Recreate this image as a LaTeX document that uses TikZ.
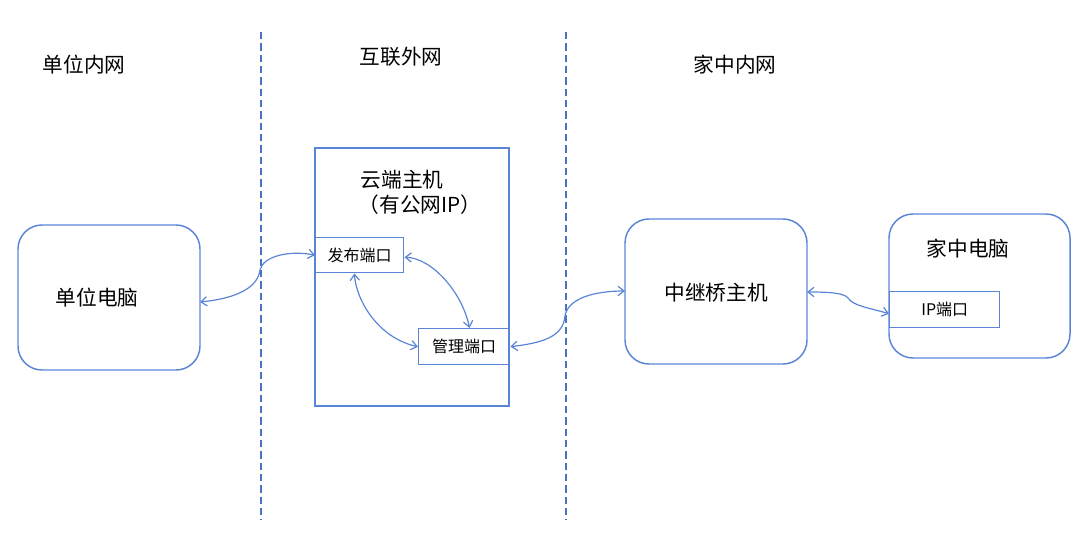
\documentclass[tikz,border=0pt]{standalone}
\usepackage{fontspec}
\setmainfont{Noto Sans CJK SC}
\usetikzlibrary{arrows.meta}
\definecolor{bl}{HTML}{5A85D6}
\definecolor{dl}{HTML}{4A72C0}
\tikzset{
  rbox/.style={draw=bl, line width=1.1pt, rounded corners=18pt},
  pbox/.style={draw=bl, line width=1.1pt},
  lnk/.style={draw=bl, line width=0.9pt, {Straight Barb[length=4.5pt,width=7pt]}-{Straight Barb[length=4.5pt,width=7pt]}},
  sep/.style={draw=dl, line width=0.9pt, dash pattern=on 5.5pt off 3pt},
  big/.style={font=\fontsize{15.5}{18}\selectfont, inner sep=0pt},
  sml/.style={font=\fontsize{12}{14}\selectfont, inner sep=0pt},
}
\begin{document}
\begin{tikzpicture}[x=0.75pt,y=-0.75pt]
\useasboundingbox (0,0) rectangle (1080,543);
% separators
\coordinate (s1a) at (261,32); \coordinate (s1b) at (261,520);
\coordinate (s2a) at (566,32); \coordinate (s2b) at (566,520);
\draw[sep] (s1a) -- (s1b);
\draw[sep] (s2a) -- (s2b);
% titles
\node[big] (t1) at (84,65) {单位内网};
\node[big] (t2) at (401,57) {互联外网};
\node[big] (t3) at (735,65) {家中内网};
% boxes
\draw[rbox] (18,225) rectangle (200,370);
\node[big] (pc) at (97,298) {单位电脑};
\coordinate (pcE) at (200,302);
\draw[pbox] (315,148) rectangle (509,406);
\node[big] (cl1) at (402,180) {云端主机};
\node[big] (cl2) at (420,205) {（有公网IP）};
\node[pbox, sml, anchor=north west, inner sep=0pt, minimum width=66pt, minimum height=26.25pt] (fb) at (315,237) {发布端口};
\node[pbox, sml, anchor=north west, inner sep=0pt, minimum width=68.25pt, minimum height=27pt] (gl) at (418,328) {管理端口};
\draw[rbox] (625,219) rectangle (807,364);
\node[big] (zj) at (716,293) {中继桥主机};
\coordinate (zjW) at (625,291);
\coordinate (zjE) at (807,292);
\draw[rbox] (889,214) rectangle (1070,358);
\node[big] (home) at (968,249) {家中电脑};
\node[pbox, sml, anchor=north west, inner sep=0pt, minimum width=82.5pt, minimum height=27pt] (ip) at (889,291) {IP端口};
% links
\draw[lnk] (pcE) .. controls (240,298) and (258,286) .. (260,270) .. controls (263,256) and (290,250) .. (fb.west);
\draw[lnk] ([yshift=-1.5pt]fb.east) .. controls (432,258) and (462,292) .. ([xshift=4pt]gl.north);
\draw[lnk] ([xshift=-4pt]fb.south) .. controls (356,300) and (378,338) .. (gl.west);
\draw[lnk] (gl.east) .. controls (540,343) and (563,338) .. (565,316) .. controls (568,298) and (595,291) .. (zjW);
\draw[lnk] (zjE) .. controls (830,292) and (844,293) .. (848,298) .. controls (853,306) and (870,308) .. ([yshift=-3pt]ip.west);
\end{tikzpicture}
\end{document}
